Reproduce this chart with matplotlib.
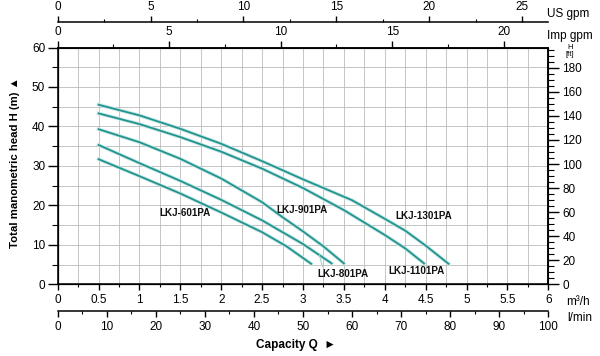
import matplotlib
matplotlib.use('Agg')
import matplotlib.pyplot as plt
from matplotlib.ticker import MultipleLocator, FormatStrFormatter
import matplotlib.patheffects as pe

plt.rcParams['font.family'] = ['Liberation Sans', 'DejaVu Sans']

# pump curves: capacity (m3/h) and head (m)
q_601 = [0.5, 1.0, 1.5, 2.0, 2.5, 2.8, 3.1]
h_601 = [31.7, 27.4, 23.0, 18.2, 13.2, 9.6, 5.2]

q_801 = [0.5, 1.0, 1.5, 2.0, 2.5, 3.0, 3.35]
h_801 = [35.3, 30.7, 26.2, 21.4, 16.2, 10.2, 5.3]

q_901 = [0.5, 1.0, 1.5, 2.0, 2.5, 2.75, 3.0, 3.25, 3.5]
h_901 = [39.3, 36.0, 31.8, 26.8, 20.8, 17.0, 13.4, 9.6, 5.3]

q_1101 = [0.5, 1.0, 1.5, 2.0, 2.5, 3.0, 3.5, 4.0, 4.25, 4.48]
h_1101 = [43.3, 40.6, 37.3, 33.6, 29.3, 24.4, 18.8, 12.5, 9.1, 5.3]

q_1301 = [0.5, 1.0, 1.5, 2.0, 2.5, 3.0, 3.6, 4.0, 4.25, 4.5, 4.78]
h_1301 = [45.5, 42.8, 39.4, 35.6, 31.2, 26.6, 21.3, 16.6, 13.6, 9.8, 5.2]

models = ['LKJ-601PA', 'LKJ-801PA', 'LKJ-901PA', 'LKJ-1101PA', 'LKJ-1301PA']

# unit conversions for the extra scales
M3H_TO_US = 4.4029
M3H_TO_IMP = 3.6662
M3H_TO_LMIN = 1000 / 60
M_TO_FT = 1 / 0.3048

W, H = 600, 356
fig = plt.figure(figsize=(6, 3.56), dpi=100)


def rect(x0, y0, x1, y1):
    return [x0 / W, 1 - y1 / H, (x1 - x0) / W, (y1 - y0) / H]


X0, X1, Y0, Y1 = 57.7, 548.3, 47.5, 284.3
ax = fig.add_axes(rect(X0, Y0, X1, Y1))
ax.set_xlim(0, 6)
ax.set_ylim(0, 60)

teal = '#22948f'
halo = [pe.Stroke(linewidth=2.6, foreground='#c6e6e4'), pe.Normal()]
for q, h in [(q_601, h_601), (q_801, h_801), (q_901, h_901),
             (q_1101, h_1101), (q_1301, h_1301)]:
    ax.plot(q, h, color=teal, lw=1.3, path_effects=halo, zorder=3)

lbl = dict(fontsize=7.1, fontweight='bold', ha='center', va='center', color='#111111')
ax.text(1.56, 18.0, models[0], **lbl)
ax.text(2.99, 18.8, models[2], **lbl)
ax.text(4.48, 17.3, models[4], **lbl)
ax.text(4.385, 3.4, models[3], **lbl)
ax.annotate(models[1], xy=(3.2, 7.4), xytext=(3.485, 2.5), **lbl,
            arrowprops=dict(arrowstyle='-', color='#9fd2cf', lw=0.8,
                            shrinkA=0, shrinkB=0, relpos=(0.12, 1.0)))

# main axes ticks and grid
ax.xaxis.set_major_locator(MultipleLocator(0.5))
ax.xaxis.set_minor_locator(MultipleLocator(0.25))
ax.xaxis.set_major_formatter(FormatStrFormatter('%g'))
ax.yaxis.set_major_locator(MultipleLocator(10))
ax.yaxis.set_minor_locator(MultipleLocator(5))
ax.grid(which='both', color='#bbbbbb', lw=0.6)
ax.set_axisbelow(True)
ax.tick_params(axis='x', which='major', length=4, width=1, labelsize=8.5, pad=3)
ax.tick_params(axis='x', which='minor', length=2.5, width=0.8)
ax.tick_params(axis='y', which='major', length=7, width=1, labelsize=8.5, pad=2)
ax.tick_params(axis='y', which='minor', length=4, width=0.8)
for s in ax.spines.values():
    s.set_linewidth(1.1)

# head in feet on the right
ax_ft = ax.twinx()
ax_ft.set_ylim(0, 60 * M_TO_FT)
ax_ft.yaxis.set_major_locator(MultipleLocator(20))
ax_ft.yaxis.set_minor_locator(MultipleLocator(5))
ax_ft.tick_params(axis='y', which='major', length=8, width=1, labelsize=8.5, pad=2)
ax_ft.tick_params(axis='y', which='minor', length=4.5, width=0.8)
ax_ft.spines['right'].set_linewidth(1.1)

# Imp gpm on the top spine
ax_imp = ax.twiny()
ax_imp.set_xlim(0, 6 * M3H_TO_IMP)
ax_imp.xaxis.set_major_locator(MultipleLocator(5))
ax_imp.xaxis.set_minor_locator(MultipleLocator(2.5))
ax_imp.tick_params(axis='x', which='major', length=5, width=1, labelsize=8.5, pad=2)
ax_imp.tick_params(axis='x', which='minor', length=3, width=0.8)
ax_imp.spines['top'].set_linewidth(1.1)

# US gpm on a separate line above
ax_us = fig.add_axes(rect(X0, 21.7, X1, 22.7))
ax_us.patch.set_alpha(0)
for k in ['left', 'right', 'bottom']:
    ax_us.spines[k].set_visible(False)
ax_us.spines['top'].set_linewidth(1.1)
ax_us.set_yticks([])
ax_us.set_xlim(0, 6 * M3H_TO_US)
ax_us.xaxis.set_ticks_position('top')
ax_us.xaxis.set_major_locator(MultipleLocator(5))
ax_us.xaxis.set_minor_locator(MultipleLocator(2.5))
ax_us.tick_params(axis='x', which='major', length=4.5, width=1, labelsize=8.5, pad=2)
ax_us.tick_params(axis='x', which='minor', length=2.5, width=0.8)

# l/min on a separate line below
ax_l = fig.add_axes(rect(X0, 310, X1, 311))
ax_l.patch.set_alpha(0)
for k in ['left', 'right', 'top']:
    ax_l.spines[k].set_visible(False)
ax_l.spines['bottom'].set_linewidth(1.1)
ax_l.set_yticks([])
ax_l.set_xlim(0, 6 * M3H_TO_LMIN)
ax_l.xaxis.set_major_locator(MultipleLocator(10))
ax_l.xaxis.set_minor_locator(MultipleLocator(5))
ax_l.tick_params(axis='x', which='major', length=4.5, width=1, labelsize=8.5, pad=3)
ax_l.tick_params(axis='x', which='minor', length=2.5, width=0.8)

# unit names and axis titles
unit = dict(fontsize=8.5, ha='left', va='center')
fig.text(547 / W, 1 - 14 / H, 'US gpm', **unit)
fig.text(547 / W, 1 - 36 / H, 'Imp gpm', **unit)
fig.text(566 / W, 1 - 302 / H, 'm³/h', **unit)
fig.text(567 / W, 1 - 318 / H, 'l/min', **unit)
fig.text(570 / W, 1 - 51 / H, 'H\n[ft]', fontsize=5.5, ha='center', va='center',
         linespacing=0.9)
fig.text(296 / W, 1 - 345 / H, 'Capacity Q  ►', fontsize=8.5, fontweight='bold',
         ha='center', va='center')
fig.text(15 / W, 1 - 163 / H, 'Total manometric head H (m) ▲', fontsize=8.2,
         fontweight='bold', rotation=90, ha='center', va='center')

fig.savefig('out.png', dpi=100)
